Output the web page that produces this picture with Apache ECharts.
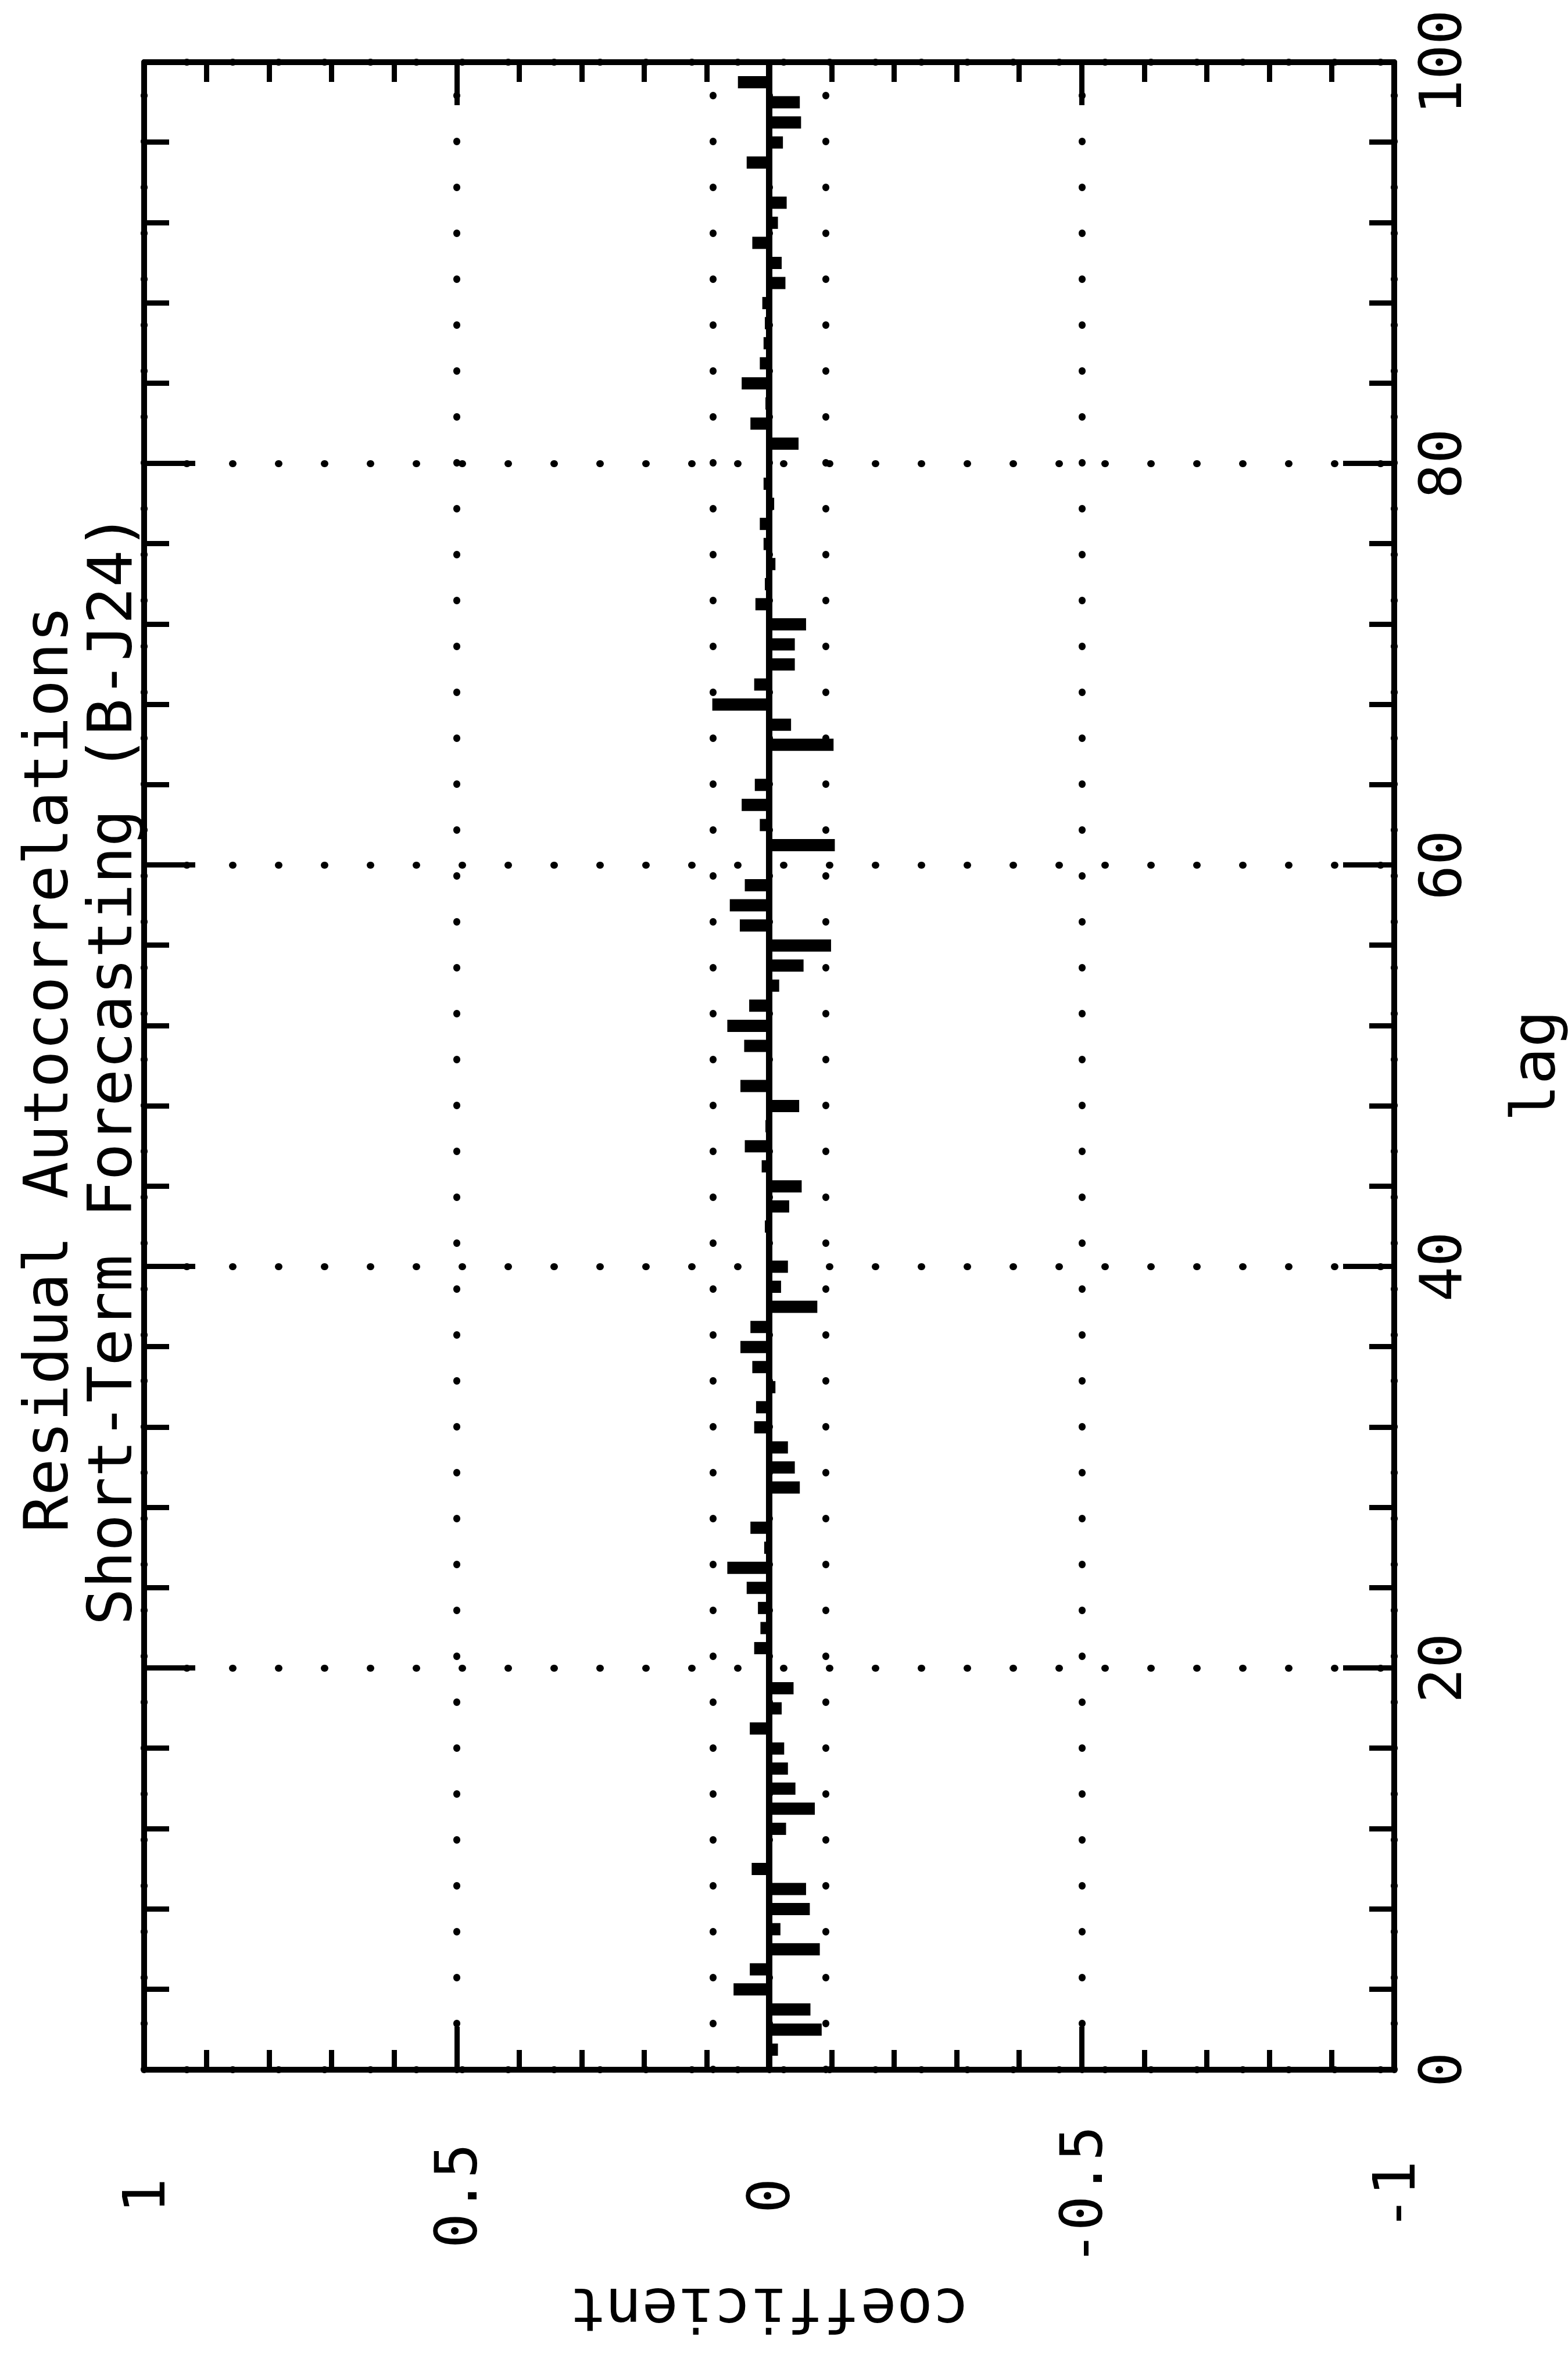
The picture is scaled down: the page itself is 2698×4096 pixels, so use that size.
<!DOCTYPE html>
<html>
<head>
<meta charset="utf-8">
<script src="https://cdn.jsdelivr.net/npm/echarts@6/dist/echarts.min.js"></script>
<style>
html,body{margin:0;padding:0;width:2698px;height:4096px;overflow:hidden;background:#fff;}
#chart{position:absolute;left:0;top:0;width:4096px;height:2698px;transform-origin:0 0;transform:translateY(4096px) rotate(-90deg);background:#fff;}
</style>
</head>
<body>
<div id="chart"></div>
<script>
// ---- data ----
const titleLines = ['Residual Autocorrelations', 'Short-Term Forecasting (B-J24)'];
const xName = 'lag';
const yName = 'coefficient';
const lags = [1,2,3,4,5,6,7,8,9,10,11,12,13,14,15,16,17,18,19,20,
  21,22,23,24,25,26,27,28,29,30,31,32,33,34,35,36,37,38,39,40,
  41,42,43,44,45,46,47,48,49,50,51,52,53,54,55,56,57,58,59,60,
  61,62,63,64,65,66,67,68,69,70,71,72,73,74,75,76,77,78,79,80,
  81,82,83,84,85,86,87,88,89,90,91,92,93,94,95,96,97,98,99];
const acf = [-0.014,-0.084,-0.066,0.057,0.031,-0.081,-0.018,-0.065,-0.059,0.028,
  0.003,-0.027,-0.073,-0.042,-0.030,-0.024,0.031,-0.020,-0.039,-0.004,
  0.024,0.014,0.018,0.036,0.067,0.008,0.030,0.004,-0.049,-0.041,
  -0.030,0.024,0.021,-0.010,0.027,0.046,0.030,-0.077,-0.019,-0.030,
  0.002,0.007,-0.032,-0.052,0.012,0.039,0.006,-0.048,0.046,0.002,
  0.040,0.067,0.032,-0.016,-0.055,-0.099,0.047,0.063,0.039,-0.004,
  -0.105,0.015,0.044,0.023,-0.004,-0.103,-0.035,0.091,0.024,-0.041,
  -0.041,-0.059,0.022,0.007,-0.010,0.009,0.015,-0.008,0.009,-0.004,
  -0.047,0.030,0.006,0.044,0.015,0.009,0.007,0.011,-0.026,-0.020,
  0.027,-0.014,-0.028,0.004,0.036,-0.022,-0.051,-0.049,0.050];
const confBand = [0.088, -0.088];
const lagRange = [0, 100];
const coefRange = [-1, 1];

// ---- chart ----
const FONT = 'DejaVu Sans Mono';
const BLACK = '#000';
const dotted = {type:[1,78], width:12, cap:'round', color:BLACK};

const chart = echarts.init(document.getElementById('chart'), null, {renderer:'svg', width:4096, height:2698});

function xAxisCfg(pos, withLabels){
  return {
    type:'value', min:lagRange[0], max:lagRange[1], interval:20, position:pos,
    axisLine:{show:true, onZero:false, lineStyle:{color:BLACK, width:10}},
    axisTick:{show:true, inside:true, length:88, lineStyle:{color:BLACK, width:9}},
    minorTick:{show:true, splitNumber:5, length:43, lineStyle:{color:BLACK, width:9}},
    splitLine:{show:withLabels, lineStyle:Object.assign({dashOffset:6}, dotted)},
    axisLabel:{show:withLabels, fontSize:100, fontFamily:FONT, color:BLACK, margin:30},
    name: withLabels ? xName : '', nameLocation:'middle', nameGap:186,
    nameTextStyle:{fontSize:106, fontFamily:FONT, color:BLACK}
  };
}
function yAxisCfg(pos, withLabels){
  return {
    type:'value', min:coefRange[0], max:coefRange[1], interval:0.5, position:pos,
    axisLine:{show:true, onZero:false, lineStyle:{color:BLACK, width:10}},
    axisTick:{show:true, inside:true, length:74, lineStyle:{color:BLACK, width:9}},
    minorTick:{show:true, splitNumber:5, length:34, lineStyle:{color:BLACK, width:9}},
    splitLine:{show:withLabels, lineStyle:dotted},
    axisLabel:{show:withLabels, fontSize:100, fontFamily:FONT, color:BLACK, margin:217, align:'center'},
    name: withLabels ? yName : '', nameLocation:'middle', nameGap:361,
    nameTextStyle:{fontSize:104, fontFamily:FONT, color:BLACK}
  };
}

chart.setOption({
  animation:false,
  backgroundColor:'#fff',
  grid:{left:534, right:107, top:248, bottom:299, containLabel:false},
  graphic:[{
    type:'text', x:2256, y:24, silent:true,
    style:{text:titleLines.join('\n'), fontSize:106, fontFamily:FONT, lineHeight:110,
      fill:BLACK, align:'center', textAlign:'center', verticalAlign:'top', textVerticalAlign:'top'}
  }],
  xAxis:[xAxisCfg('bottom', true), xAxisCfg('top', false)],
  yAxis:[yAxisCfg('left', true), yAxisCfg('right', false)],
  series:[{
    type:'bar', xAxisIndex:0, yAxisIndex:0,
    data: lags.map((l,i)=>[l, acf[i]]),
    barWidth:21,
    itemStyle:{color:BLACK},
    markLine:{
      silent:true, symbol:'none', label:{show:false},
      data:[
        {yAxis:0, lineStyle:{type:'solid', width:11, color:BLACK}},
        {yAxis:confBand[0], lineStyle:dotted},
        {yAxis:confBand[1], lineStyle:dotted}
      ]
    }
  }]
});
</script>
</body>
</html>
